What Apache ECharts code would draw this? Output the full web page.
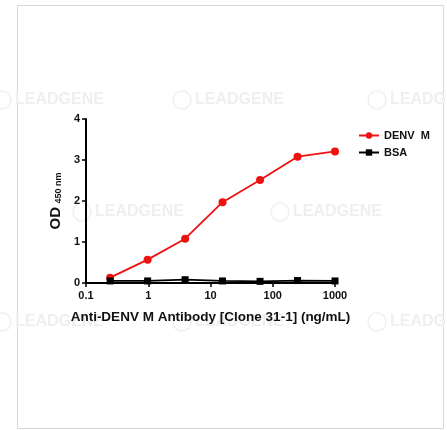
<!DOCTYPE html>
<html><head><meta charset="utf-8">
<script src="https://cdn.jsdelivr.net/npm/echarts@6/dist/echarts.min.js"></script>
<style>html,body{margin:0;padding:0;background:#fff}#c{width:447px;height:430px}</style>
</head><body><div id="c"></div>
<script>
const concentrations = [0.244, 0.977, 3.91, 15.6, 62.5, 250, 1000];
const denvM = [0.13, 0.57, 1.08, 1.97, 2.51, 3.08, 3.21];
const bsa = [0.05, 0.05, 0.08, 0.05, 0.04, 0.06, 0.05];
const seriesNames = ['DENV  M', 'BSA'];
const xTicks = [0.1, 1, 10, 100, 1000];
const yTicks = [0, 1, 2, 3, 4];

const chart = echarts.init(document.getElementById('c'));
const font = 'Liberation Sans, Arial, sans-serif';
const wm = [];
const wmRows = [100, 212, 322];
const wmCols = [[-10, 170, 365], [70, 268, 460], [-10, 170, 365]];
wmRows.forEach((y, i) => {
  wmCols[i].forEach(x => {
    wm.push({type:'text', left: x + 25, top: y - 8, z: -1, silent: true,
      style:{text:'LEADGENE', fill:'#efefef', font:'bold 16px ' + font}});
    wm.push({type:'circle', shape:{cx: x + 12, cy: y, r: 9}, z: -1, silent: true,
      style:{fill:'none', stroke:'#f0f0f0', lineWidth: 1.5}});
  });
});
wm.push({type:'rect', shape:{x:17.5, y:5.5, width:426, height:423}, z:-2, silent:true,
  style:{fill:'none', stroke:'#d8d8d8', lineWidth:1}});

chart.setOption({
  animation: false,
  backgroundColor: '#fff',
  graphic: wm,
  grid: {left: 86, right: 112, top: 119, bottom: 147},
  legend: {
    left: 353, top: 125, orient: 'vertical', itemGap: 6, itemWidth: 20, itemHeight: 8,
    textStyle: {fontFamily: font, fontWeight: 'bold', fontSize: 11, color: '#111'},
    data: seriesNames
  },
  xAxis: {
    type: 'log', min: xTicks[0], max: xTicks[xTicks.length - 1], logBase: 10,
    name: 'Anti-DENV M Antibody [Clone 31-1] (ng/mL)', nameLocation: 'middle', nameGap: 27,
    nameTextStyle: {fontFamily: font, fontWeight: 'bold', fontSize: 13.5, color: '#111'},
    axisLine: {lineStyle: {color: '#000', width: 2}},
    axisTick: {show: true, length: 4, lineStyle: {color: '#000', width: 1.5}},
    minorTick: {show: false},
    splitLine: {show: false},
    axisLabel: {fontFamily: font, fontWeight: 'bold', fontSize: 11, color: '#111', margin: 7,
      formatter: v => String(+v.toPrecision(6))}
  },
  yAxis: {
    type: 'value', min: yTicks[0], max: yTicks[yTicks.length - 1], interval: 1,
    name: '{a|OD} {b|450 nm}', nameLocation: 'middle', nameGap: 21,
    nameTextStyle: {rich: {
      a: {fontFamily: font, fontWeight: 'bold', fontSize: 15, color: '#111'},
      b: {fontFamily: font, fontWeight: 'bold', fontSize: 9, color: '#111', padding: [6, 0, 0, 0]}
    }},
    axisLine: {show: true, lineStyle: {color: '#000', width: 2}},
    axisTick: {show: true, length: 4, lineStyle: {color: '#000', width: 1.5}},
    splitLine: {show: false},
    axisLabel: {fontFamily: font, fontWeight: 'bold', fontSize: 11, color: '#111', margin: 6}
  },
  series: [
    {name: seriesNames[0], type: 'line', data: concentrations.map((x, i) => [x, denvM[i]]),
      symbol: 'circle', symbolSize: 8, color: '#ee1111',
      lineStyle: {width: 1.8, color: '#ee1111'}, itemStyle: {color: '#ee1111'}, z: 3},
    {name: seriesNames[1], type: 'line', data: concentrations.map((x, i) => [x, bsa[i]]),
      symbol: 'rect', symbolSize: 7, color: '#000',
      lineStyle: {width: 1.8, color: '#000'}, itemStyle: {color: '#000'}, z: 4}
  ]
});
</script></body></html>
